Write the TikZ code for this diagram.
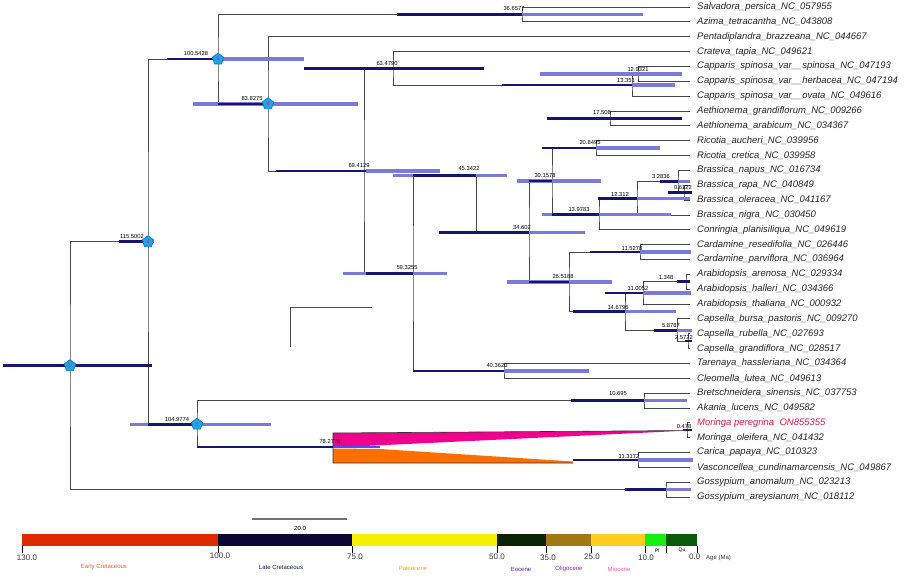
\documentclass[tikz,border=0pt]{standalone}
\usepackage{fontspec}
\setmainfont{Liberation Sans}
\usetikzlibrary{shapes.geometric}
\definecolor{navy}{RGB}{22,22,110}
\definecolor{lbar}{RGB}{122,122,218}
\definecolor{brc}{RGB}{70,70,70}
\definecolor{pentfill}{RGB}{30,165,225}
\definecolor{pentdraw}{RGB}{0,120,205}
\definecolor{mpink}{RGB}{240,0,140}
\definecolor{morange}{RGB}{255,110,0}
\definecolor{mred}{RGB}{232,25,75}
\definecolor{cEK}{RGB}{222,42,0}
\definecolor{cLK}{RGB}{10,8,50}
\definecolor{cPa}{RGB}{245,240,0}
\definecolor{cEo}{RGB}{10,35,5}
\definecolor{cOl}{RGB}{160,120,20}
\definecolor{cMi}{RGB}{255,205,30}
\definecolor{cPl}{RGB}{20,240,20}
\definecolor{cQu}{RGB}{10,90,10}
\definecolor{tEK}{RGB}{240,90,40}
\definecolor{tLK}{RGB}{20,20,60}
\definecolor{tPa}{RGB}{240,170,0}
\definecolor{tEo}{RGB}{60,40,200}
\definecolor{tOl}{RGB}{150,30,200}
\definecolor{tMi}{RGB}{250,90,160}
\begin{document}
\begin{tikzpicture}[x=1pt,y=-1pt,
  br/.style={draw=brc,line width=0.75pt},
  lb/.style={draw=lbar,line width=3.6pt},
  db/.style={draw=navy,line width=2.5pt},
  age/.style={font=\fontsize{5.8}{6}\selectfont, inner sep=0pt},
  tip/.style={font=\fontsize{9.5}{11}\selectfont\itshape, anchor=west, inner sep=0pt, text=black!85},
  pent/.style={regular polygon, regular polygon sides=5, minimum size=12pt, inner sep=0pt, fill=pentfill, draw=pentdraw, line width=0.6pt, font=\fontsize{5}{5}\selectfont, text=magenta},
  tick/.style={draw=black, line width=0.6pt},
  ticklab/.style={font=\fontsize{8}{8}\selectfont, inner sep=0pt, text=black!80},
  eplab/.style={font=\fontsize{6}{6}\selectfont, inner sep=0pt}]
\useasboundingbox (0,0) rectangle (913,577);
\fill[white] (0,0) rectangle (913,577);

% ---- tips ----
\foreach \i/\nm in {0/Salvadora\_persica\_NC\_057955, 1/Azima\_tetracantha\_NC\_043808,
  2/Pentadiplandra\_brazzeana\_NC\_044667, 3/Crateva\_tapia\_NC\_049621,
  4/Capparis\_spinosa\_var\_\_spinosa\_NC\_047193, 5/Capparis\_spinosa\_var\_\_herbacea\_NC\_047194,
  6/Capparis\_spinosa\_var\_\_ovata\_NC\_049616, 7/Aethionema\_grandiflorum\_NC\_009266,
  8/Aethionema\_arabicum\_NC\_034367, 9/Ricotia\_aucheri\_NC\_039956,
  10/Ricotia\_cretica\_NC\_039958, 11/Brassica\_napus\_NC\_016734,
  12/Brassica\_rapa\_NC\_040849, 13/Brassica\_oleracea\_NC\_041167,
  14/Brassica\_nigra\_NC\_030450, 15/Conringia\_planisiliqua\_NC\_049619,
  16/Cardamine\_resedifolia\_NC\_026446, 17/Cardamine\_parviflora\_NC\_036964,
  18/Arabidopsis\_arenosa\_NC\_029334, 19/Arabidopsis\_halleri\_NC\_034366,
  20/Arabidopsis\_thaliana\_NC\_000932, 21/Capsella\_bursa\_pastoris\_NC\_009270,
  22/Capsella\_rubella\_NC\_027693, 23/Capsella\_grandiflora\_NC\_028517,
  24/Tarenaya\_hassleriana\_NC\_034364, 25/Cleomella\_lutea\_NC\_049613,
  26/Bretschneidera\_sinensis\_NC\_037753, 27/Akania\_lucens\_NC\_049582,
  29/Moringa\_oleifera\_NC\_041432, 30/Carica\_papaya\_NC\_010323,
  31/Vasconcellea\_cundinamarcensis\_NC\_049867, 32/Gossypium\_anomalum\_NC\_023213,
  33/Gossypium\_areysianum\_NC\_018112}{
  \pgfmathsetmacro\yy{7+14.85*\i}
  \coordinate (e\i) at (690,\yy);
  \node[tip] (t\i) at (697,\yy) {\nm};
}
\coordinate (e28) at (690,422.8);
\node[tip, text=mred] (t28) at (697,422.8) {Moringa peregrina\ \ ON855355};

% ---- internal nodes ----
\coordinate (R)    at (70,365.7);
\coordinate (N115) at (148,241.7);
\coordinate (N100) at (218,59.1);
\coordinate (N83)  at (268,103.8);
\coordinate (N36)  at (522,14.4);
\coordinate (N69)  at (364,170.9);
\coordinate (N63)  at (393,68.3);
\coordinate (C13)  at (632,85);
\coordinate (C12)  at (638,73.8);
\coordinate (N59)  at (413,273.4);
\coordinate (N45)  at (476,175.7);
\coordinate (Ae)   at (610,118.4);
\coordinate (N34)  at (529,232.7);
\coordinate (N30)  at (552,181.2);
\coordinate (Ri)   at (596,148.1);
\coordinate (B13)  at (599,214.4);
\coordinate (B12)  at (637,198.5);
\coordinate (B3)   at (678,181.5);
\coordinate (B0)   at (684,192.6);
\coordinate (N26)  at (569,281.8);
\coordinate (Card) at (640,252);
\coordinate (N14)  at (625,311.6);
\coordinate (N11)  at (643,292.9);
\coordinate (A1)   at (686,281.7);
\coordinate (N5)   at (677,330.4);
\coordinate (N2)   at (688,341.1);
\coordinate (N40)  at (504,370.8);
\coordinate (N104) at (197,424.3);
\coordinate (Br)   at (644,400.5);
\coordinate (N78)  at (333,447);
\coordinate (Mo)   at (687,430.2);
\coordinate (Ca)   at (638,459.9);
\coordinate (Go)   at (666,489.6);

% ---- wedges for Moringa / Caricaceae ----
\fill[mpink] (333,433) -- (690,430.5) -- (333,447.5) -- cycle;
\fill[morange] (333,448.5) -- (380,449) -- (573,461.5) -- (573,463) -- (333,463) -- cycle;
\draw[black!80, line width=0.6pt] (690,430.5) -- (333,433) -- (333,463) -- (573,463);

% ---- branches ----
\draw[br] (N115) -| (R) |- (Go);
\draw[br] (N100) -| (N115) |- (N104);
\draw[br] (N36) -| (N100) |- (N83);
\draw[br] (e0) -| (N36) |- (e1);
\draw[br] (e2) -| (N83) |- (N69);
\draw[br] (N63) -| (N69) |- (N59);
\draw[br] (e3) -| (N63) |- (C13);
\draw[br] (C12) -| (C13) |- (e6);
\draw[br] (e4) -| (C12) |- (e5);
\draw[br] (N45) -| (N59) |- (N40);
\draw[br] (N45) |- (N34);
\draw[br] (e7) -| (Ae) |- (e8);
\draw[br] (N30) -| (N34) |- (N26);
\draw[br] (Ri) -| (N30) |- (B13);
\draw[br] (e9) -| (Ri) |- (e10);
\draw[br] (B12) -| (B13) |- (e15);
\draw[br] (B3) -| (B12) |- (e14);
\draw[br] (e11) -| (B3) |- (B0);
\draw[br] (e12) -| (B0) |- (e13);
\draw[br] (Card) -| (N26) |- (N14);
\draw[br] (e16) -| (Card) |- (e17);
\draw[br] (N11) -| (N14) |- (N5);
\draw[br] (A1) -| (N11) |- (e20);
\draw[br] (e18) -| (A1) |- (e19);
\draw[br] (e21) -| (N5) |- (N2);
\draw[br] (e22) -| (N2) |- (e23);
\draw[br] (e24) -| (N40) |- (e25);
\draw[br] (Br) -| (N104) |- (N78);
\draw[br] (e26) -| (Br) |- (e27);
\draw[br] (e28) -| (Mo) |- (e29);
\draw[br] (e30) -| (Ca) |- (e31);
\draw[br] (e32) -| (Go) |- (e33);

% ---- HPD bars (light) ----
\foreach \y/\a/\b in {59.1/218/304, 103.8/193/358, 14.4/522/643, 73.8/540/682, 85/632/675,
  170.9/366/440, 175.7/393/507, 273.4/343/447, 370.8/504/589, 148.1/596/660, 181.2/517/601,
  232.7/529/585, 214.4/542/671, 198.5/637/690, 181.5/678/690, 281.8/507/612, 252/640/691,
  311.6/573/676, 292.9/643/691, 330.4/654/692, 400.5/644/687, 424.3/130/271, 459.9/638/693,
  489.6/666/691}{
  \draw[lb] (\a,\y) -- (\b,\y);
}
% ---- HPD bars (dark) ----
\foreach \y/\a/\b in {365.7/3/152, 241.7/119/154, 59.1/167/218, 103.8/218/268, 14.4/397/522,
  68.3/304/484, 85/502/632, 170.9/276/366, 175.7/413/476, 273.4/366/413, 370.8/413/504,
  118.4/547/682, 148.1/542/596, 181.2/529/552, 232.7/439/529, 214.4/552/599, 198.5/598/637,
  181.5/660/678, 192.6/668/692, 281.8/529/569, 252/590/640, 311.6/573/625, 292.9/605/643,
  281.7/677/690, 330.4/654/677, 341.1/685/692, 400.5/571/644, 424.3/148/197, 447/197/333,
  459.9/573/638, 489.6/625/666, 430.2/683/692}{
  \draw[db] (\a,\y) -- (\b,\y);
}
\draw[draw=blue!70!white, line width=1.6pt] (333,447) -- (380,447);

% ---- node ages ----
\node[age] (a1)  at (514,9)   {36.6577};
\node[age] (a2)  at (196,54)  {100.5428};
\node[age] (a3)  at (252,99)  {83.8275};
\node[age] (a4)  at (387,64)  {63.4790};
\node[age] (a5)  at (638,70)  {12.9321};
\node[age] (a6)  at (626,81)  {13.351};
\node[age] (a7)  at (602,113) {17.508};
\node[age] (a8)  at (590,143) {20.8495};
\node[age] (a9)  at (469,169) {45.3422};
\node[age] (a10) at (545,176) {30.1578};
\node[age] (a11) at (661,177) {3.2836};
\node[age] (a12) at (683,188) {0.6122};
\node[age] (a13) at (620,195) {12.312};
\node[age] (a14) at (579,210) {13.9783};
\node[age] (a15) at (522,228) {34.602};
\node[age] (a16) at (359,166) {69.4129};
\node[age] (a17) at (407,268) {59.3255};
\node[age] (a18) at (132,237) {115.5002};
\node[age] (a19) at (632,249) {11.5278};
\node[age] (a20) at (563,277) {26.5188};
\node[age] (a21) at (666,278) {1.348};
\node[age] (a22) at (638,289) {11.0052};
\node[age] (a23) at (618,308) {14.6796};
\node[age] (a24) at (671,326) {5.8787};
\node[age] (a25) at (684,338) {2.5722};
\node[age] (a26) at (497,366) {40.3623};
\node[age] (a27) at (618,394) {10.695};
\node[age] (a28) at (177,420) {104.9774};
\node[age] (a29) at (330,442) {78.2776};
\node[age] (a30) at (684,427) {0.478};
\node[age] (a31) at (629,457) {11.3172};

% ---- calibration pentagons ----
\node[pent] (p1) at (R) {1};
\node[pent] (p2) at (N104) {2};
\node[pent] (p3) at (N115) {3};
\node[pent] (p4) at (N83) {4};
\node[pent] (p5) at (N100) {5};

% ---- stray bracket ----
\draw[draw=black!70, line width=0.6pt] (290,347) -- (290,307) -- (372,307);

% ---- scale bar ----
\coordinate (sb1) at (252,519);
\coordinate (sb2) at (347,519);
\draw[draw=black!55, line width=1.3pt] (sb1) -- (sb2);
\node[age, font=\fontsize{6}{6}\selectfont] (sbl) at (300,528) {20.0};

% ---- geological time scale ----
\fill[cEK] (22,534) rectangle (218,546);
\fill[cLK] (218,534) rectangle (352,546);
\fill[cPa] (352,534) rectangle (497,546);
\fill[cEo] (497,534) rectangle (546,546);
\fill[cOl] (546,534) rectangle (591,546);
\fill[cMi] (591,534) rectangle (645,546);
\fill[cPl] (645,534) rectangle (666,546);
\fill[cQu] (666,534) rectangle (697,546);
\foreach \x in {22,218,352,497,546,591,645,666,697}{
  \draw[tick] (\x,546) -- (\x,553);
}
\node[ticklab] (k1) at (27,558) {130.0};
\node[ticklab] (k2) at (220,556) {100.0};
\node[ticklab] (k3) at (355,557) {75.0};
\node[ticklab] (k4) at (497,557) {50.0};
\node[ticklab] (k5) at (548,558) {35.0};
\node[ticklab] (k6) at (592,557) {25.0};
\node[ticklab] (k7) at (646,558) {10.0};
\node[ticklab, anchor=west] (k8) at (689,557) {0.0};
\node[eplab, anchor=west, text=black!80] (k9) at (706,557.5) {Age (Ma)};
\node[eplab, font=\fontsize{5}{5}\selectfont, text=black] (pl) at (657,551) {Pl};
\node[eplab, font=\fontsize{5}{5}\selectfont, text=black] (qu) at (682,550) {Qu};
\node[eplab, text=tEK] (l1) at (104,567) {Early Cretaceous};
\node[eplab, text=tLK] (l2) at (281,567) {Late Cretaceous};
\node[eplab, text=tPa] (l3) at (413,568) {Paleocene};
\node[eplab, text=tEo] (l4) at (521,569) {Eocene};
\node[eplab, text=tOl] (l5) at (569,569) {Oligocene};
\node[eplab, text=tMi] (l6) at (619,569) {Miocene};
\end{tikzpicture}
\end{document}
